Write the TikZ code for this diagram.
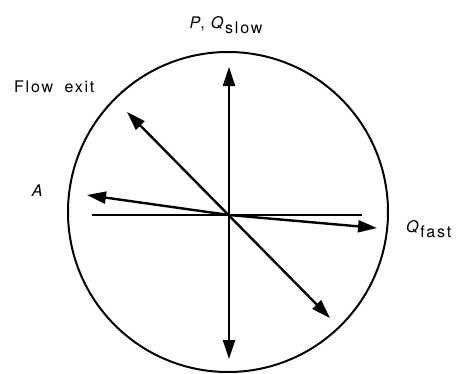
\documentclass[tikz,border=0pt]{standalone}
\usepackage{fontspec}
\setmainfont{TeX Gyre Heros}[LetterSpace=11]
\usetikzlibrary{arrows.meta,positioning}

\begin{document}
\begin{tikzpicture}[
    x=1pt, y=-1pt,
    axis/.style={line width=2.4pt},
    arrow/.style={axis, -{Triangle[length=19pt,width=12pt]}},
    both/.style={axis, {Triangle[length=19pt,width=12pt]}-{Triangle[length=19pt,width=12pt]}},
    lab/.style={inner sep=0pt, font=\fontsize{16}{19}\selectfont}
]
\useasboundingbox (0,0) rectangle (456,373);
% the sphere and its centre
\draw[line width=2pt] (228,212) circle[radius=160];
\coordinate (o) at (229,215);
\coordinate (top) at (229,67);
\coordinate (bot) at (229,359);
\coordinate (ul) at (127,112);
\coordinate (lr) at (330,318);
\coordinate (hl) at (92,215);
\coordinate (hr) at (362,215);
\coordinate (al) at (87,195);
\coordinate (qf) at (377,228);

\draw[both] (bot) -- (top);
\draw[both] (lr) -- (ul);
\draw[axis] (hl) -- (hr);
\draw[arrow] (o) -- (al);
\draw[arrow] (o) -- (qf);

% labels
\node[lab] (pq) at (226,25) {\textit{P}, \textit{Q}\raisebox{-0.6ex}{slow}};
\node[lab, anchor=west] (fe) at (14,87) {Flow\,\, exit};
\node[lab] (a) at (38,191) {\textit{A}};
\node[lab, anchor=west] (qfast) at (406,229) {\textit{Q}\raisebox{-0.6ex}{fast}};
\end{tikzpicture}
\end{document}
